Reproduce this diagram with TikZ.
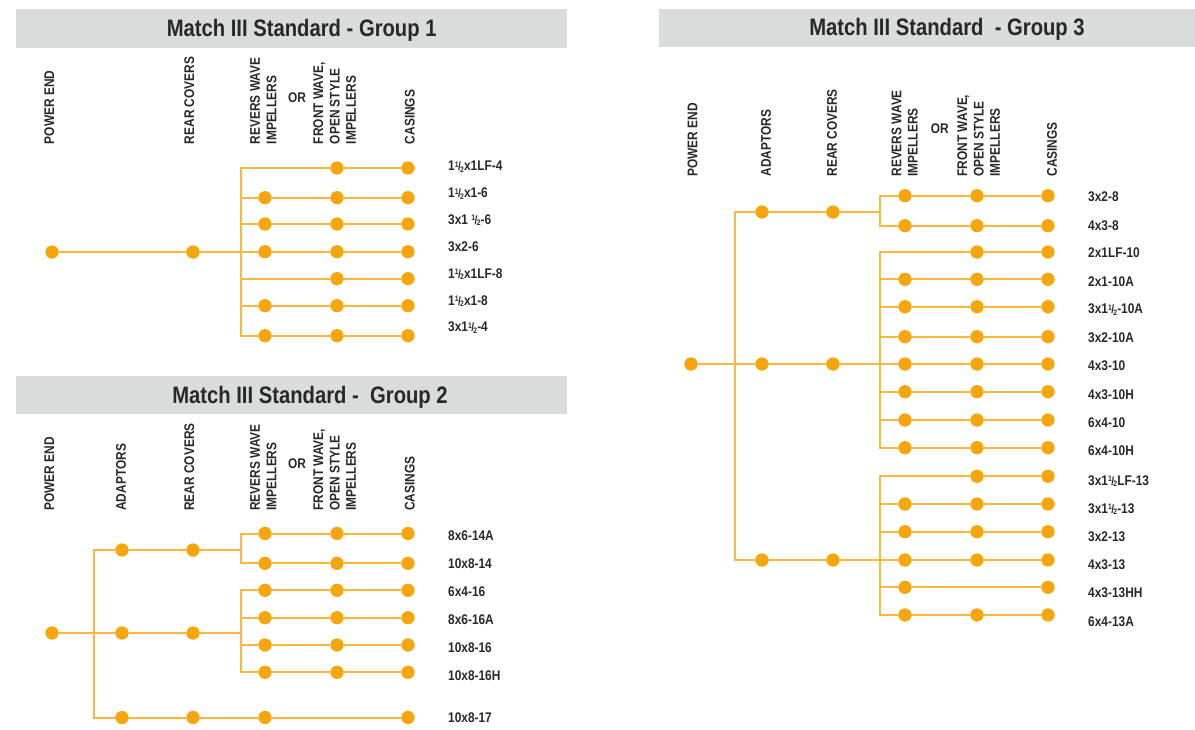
\documentclass[tikz,border=0pt]{standalone}
\usepackage{fontspec}
\usepackage{tikz}
\newfontfamily\narrowsans[FakeStretch=0.85]{Liberation Sans}
\definecolor{dotorange}{RGB}{246,166,12}
\definecolor{lineorange}{RGB}{249,184,60}
\definecolor{bandgray}{RGB}{218,219,219}
\definecolor{inkgray}{RGB}{40,40,40}
\newcommand{\hf}{\raisebox{3.6pt}{\fontsize{8}{8}\selectfont 1}\kern-0.4pt{\fontsize{12}{12}\selectfont/}\kern-0.8pt\raisebox{-1.6pt}{\fontsize{8}{8}\selectfont 2}}

\tikzset{
  dot/.style={circle, fill=dotorange, minimum size=13.3pt, inner sep=0pt},
  link/.style={draw=lineorange, line width=2pt, line cap=rect},
  band/.style={fill=bandgray, draw=none},
  title/.style={font={\narrowsans\bfseries\fontsize{23.8}{26}\selectfont}, text=inkgray, anchor=base, inner sep=0pt},
  colhead/.style={font={\narrowsans\bfseries\fontsize{14}{16.3}\selectfont}, text=inkgray, rotate=90, anchor=west, align=left, inner sep=0pt},
  orword/.style={font={\narrowsans\bfseries\fontsize{14}{16}\selectfont}, text=inkgray, inner sep=0pt},
  partlabel/.style={font={\narrowsans\bfseries\fontsize{14}{16}\selectfont}, text=inkgray, anchor=west, inner sep=0pt, text height=10pt, text depth=0pt}
}

\begin{document}
\begin{tikzpicture}[x=1pt, y=-1pt]
  \fill[white] (0,0) rectangle (1195,729);
  \useasboundingbox (0,0) rectangle (1195,729);

  % Group 1
  \fill[band] (16,8.5) rectangle (567,47.5);
  \node[title] (g1title) at (301.7,36.7) {Match III Standard - Group 1};
  \node[colhead] (g1h1) at (49.3,144.3) {POWER END};
  \node[colhead] (g1h2) at (189.2,144.3) {REAR COVERS};
  \node[colhead] (g1h3) at (263.3,144.3) {REVERS WAVE\\IMPELLERS};
  \node[orword] (g1or) at (297,97.5) {OR};
  \node[colhead] (g1h4) at (334.7,144.3) {FRONT WAVE,\\OPEN STYLE\\IMPELLERS};
  \node[colhead] (g1h5) at (409.7,144.3) {CASINGS};

  \node[dot] (g1pe) at (52,252) {};
  \node[dot] (g1rc) at (193,252) {};
  \coordinate (g1j) at (241,252);
  \draw[link] (g1pe) -- (g1rc) -- (g1j);
  \foreach \y/\k/\ly/\lab [count=\i] in {168/1/165.7/{1\hf x1LF-4}, 197.7/0/192.7/{1\hf x1-6},
      224/0/219.3/{3x1 \hf-6}, 251.7/0/246.5/{3x2-6}, 278.7/1/273.3/{1\hf x1LF-8},
      305.7/0/300/{1\hf x1-8}, 335.7/0/326.7/{3x1\hf-4}}{
    \coordinate (g1b\i) at (241,\y);
    \ifnum\k=1 \else \node[dot] (g1i\i) at (265,\y) {}; \fi
    \node[dot] (g1f\i) at (337,\y) {};
    \node[dot] (g1c\i) at (408,\y) {};
    \node[partlabel] (g1l\i) at (448,\ly) {\lab};
    \ifcase\k
      \draw[link] (g1b\i) -- (g1i\i) -- (g1f\i) -- (g1c\i);
    \or
      \draw[link] (g1b\i) -- (g1f\i) -- (g1c\i);
    \fi
  }
  \draw[link] (g1b1) -- (g1b7);

  % Group 2
  \fill[band] (16,376) rectangle (567,414);
  \node[title] (g2title) at (310,403) {Match III Standard - \ Group 2};
  \node[colhead] (g2h1) at (49.3,510.8) {POWER END};
  \node[colhead] (g2h2) at (121,510.8) {ADAPTORS};
  \node[colhead] (g2h3) at (189.2,510.8) {REAR COVERS};
  \node[colhead] (g2h4) at (263.3,510.8) {REVERS WAVE\\IMPELLERS};
  \node[orword] (g2or) at (297,464) {OR};
  \node[colhead] (g2h5) at (334.7,510.8) {FRONT WAVE,\\OPEN STYLE\\IMPELLERS};
  \node[colhead] (g2h6) at (409.7,510.8) {CASINGS};

  \node[dot] (g2pe) at (52,633) {};
  \coordinate (g2a1) at (94.3,550);
  \coordinate (g2a2) at (94.3,633);
  \coordinate (g2a3) at (94.3,717.5);
  \node[dot] (g2ad1) at (122,550) {};
  \node[dot] (g2ad2) at (122,633) {};
  \node[dot] (g2ad3) at (122,717.5) {};
  \node[dot] (g2rc1) at (193,550) {};
  \node[dot] (g2rc2) at (193,633) {};
  \node[dot] (g2rc3) at (193,717.5) {};
  \coordinate (g2j1) at (241,550);
  \coordinate (g2j2) at (241,633);
  \draw[link] (g2pe) -- (g2ad2);
  \draw[link] (g2a1) -- (g2a3);
  \draw[link] (g2a1) -- (g2ad1) -- (g2rc1) -- (g2j1);
  \draw[link] (g2ad2) -- (g2rc2) -- (g2j2);
  \foreach \y/\ly/\lab [count=\i] in {533.5/535/8x6-14A, 563.3/563.3/10x8-14, 590.3/591/6x4-16,
      617.7/619.3/8x6-16A, 645/647.3/10x8-16, 672.3/675.7/10x8-16H}{
    \coordinate (g2b\i) at (241,\y);
    \node[dot] (g2i\i) at (265,\y) {};
    \node[dot] (g2f\i) at (337,\y) {};
    \node[dot] (g2c\i) at (408,\y) {};
    \node[partlabel] (g2l\i) at (448,\ly) {\lab};
    \draw[link] (g2b\i) -- (g2i\i) -- (g2f\i) -- (g2c\i);
  }
  \draw[link] (g2b1) -- (g2b2);
  \draw[link] (g2b3) -- (g2b6);
  \node[dot] (g2i7) at (265,717.5) {};
  \node[dot] (g2c7) at (408,717.5) {};
  \node[partlabel] (g2l7) at (448,717.3) {10x8-17};
  \draw[link] (g2a3) -- (g2ad3) -- (g2rc3) -- (g2i7) -- (g2c7);

  % Group 3
  \fill[band] (659,9.3) rectangle (1195,47.3);
  \node[title] (g3title) at (947,35.5) {Match III Standard \ - Group 3};
  \node[colhead] (g3h1) at (692.5,176.7) {POWER END};
  \node[colhead] (g3h2) at (766,176.7) {ADAPTORS};
  \node[colhead] (g3h3) at (832,176.7) {REAR COVERS};
  \node[colhead] (g3h4) at (904.7,176.7) {REVERS WAVE\\IMPELLERS};
  \node[orword] (g3or) at (939.7,128.3) {OR};
  \node[colhead] (g3h5) at (978.7,176.7) {FRONT WAVE,\\OPEN STYLE\\IMPELLERS};
  \node[colhead] (g3h6) at (1052,176.7) {CASINGS};

  \node[dot] (g3pe) at (691,364) {};
  \coordinate (g3a1) at (735,212);
  \coordinate (g3a2) at (735,364);
  \coordinate (g3a3) at (735,560);
  \node[dot] (g3ad1) at (762,212) {};
  \node[dot] (g3ad2) at (762,364) {};
  \node[dot] (g3ad3) at (762,560) {};
  \node[dot] (g3rc1) at (833,212) {};
  \node[dot] (g3rc2) at (833,364) {};
  \node[dot] (g3rc3) at (833,560) {};
  \coordinate (g3j1) at (880,212);
  \coordinate (g3j2) at (880,364);
  \coordinate (g3j3) at (880,560);
  \draw[link] (g3pe) -- (g3ad2);
  \draw[link] (g3a1) -- (g3a3);
  \draw[link] (g3a1) -- (g3ad1) -- (g3rc1) -- (g3j1);
  \draw[link] (g3ad2) -- (g3rc2) -- (g3j2);
  \draw[link] (g3a3) -- (g3ad3) -- (g3rc3) -- (g3j3);
  \foreach \y/\k/\ly/\lab [count=\i] in {195.7/0/196.7/3x2-8, 225.7/0/225/4x3-8,
      252/1/252.7/2x1LF-10, 279.3/0/281/2x1-10A, 306.7/0/308.7/{3x1\hf-10A},
      336.7/0/337.3/3x2-10A, 364/0/365.7/4x3-10, 391.7/0/394/4x3-10H,
      420/0/422.7/6x4-10, 447.7/0/450.7/6x4-10H,
      476.3/1/480/{3x1\hf LF-13}, 504/0/508.3/{3x1\hf-13}, 531.7/0/536/3x2-13,
      560/0/564.3/4x3-13, 587.3/2/592.7/4x3-13HH, 615/0/621/6x4-13A}{
    \coordinate (g3b\i) at (880,\y);
    \ifnum\k=1 \else \node[dot] (g3i\i) at (905,\y) {}; \fi
    \ifnum\k=2 \else \node[dot] (g3f\i) at (977,\y) {}; \fi
    \node[dot] (g3c\i) at (1048,\y) {};
    \node[partlabel] (g3l\i) at (1088,\ly) {\lab};
    \ifcase\k
      \draw[link] (g3b\i) -- (g3i\i) -- (g3f\i) -- (g3c\i);
    \or
      \draw[link] (g3b\i) -- (g3f\i) -- (g3c\i);
    \or
      \draw[link] (g3b\i) -- (g3i\i) -- (g3c\i);
    \fi
  }
  \draw[link] (g3b1) -- (g3b2);
  \draw[link] (g3b3) -- (g3b10);
  \draw[link] (g3b11) -- (g3b16);
\end{tikzpicture}
\end{document}
